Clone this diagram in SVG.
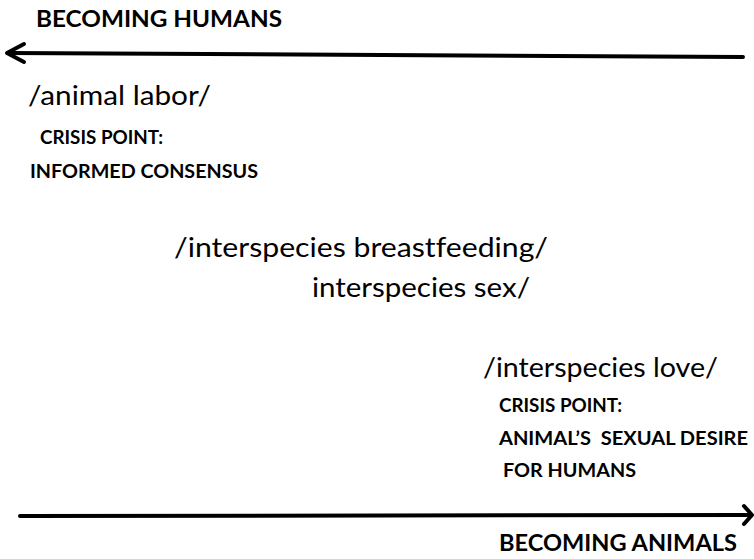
<svg xmlns="http://www.w3.org/2000/svg" width="754" height="559" viewBox="0 0 754 559">
<style>
.t{font-family:Lato,"Open Sans","Liberation Sans",sans-serif;fill:#000;font-variant-ligatures:none}
.b{font-weight:bold;font-size:19.5px}
.h{font-weight:bold;font-size:23px}
.r{font-size:27px}
.ln{stroke:#000;stroke-width:4;fill:none;stroke-linecap:round;stroke-linejoin:round}
</style>
<rect width="754" height="559" fill="#fff"/>
<g id="connectors">
<line class="ln" x1="8" y1="53" x2="743" y2="57"/>
<polyline class="ln" points="24,44 7,53 24,62"/>
<line class="ln" x1="20" y1="516" x2="751" y2="515"/>
<polyline class="ln" points="744,506 752,515 744,524"/>
</g>
<g id="becoming-humans"><text class="t h" x="36" y="27" textLength="246" lengthAdjust="spacingAndGlyphs">BECOMING HUMANS</text></g>
<g id="animal-labor">
<text class="t r" x="28" y="105" textLength="183" lengthAdjust="spacingAndGlyphs">/animal labor/</text>
<text class="t b" x="40" y="144" textLength="123" lengthAdjust="spacingAndGlyphs">CRISIS POINT:</text>
<text class="t b" x="30" y="178" textLength="228" lengthAdjust="spacingAndGlyphs">INFORMED CONSENSUS</text>
</g>
<g id="interspecies-breastfeeding">
<text class="t r" x="174" y="257" textLength="374" lengthAdjust="spacingAndGlyphs">/interspecies breastfeeding/</text>
<text class="t r" x="312" y="297" textLength="218" lengthAdjust="spacingAndGlyphs">interspecies sex/</text>
</g>
<g id="interspecies-love">
<text class="t r" x="483" y="377" textLength="235" lengthAdjust="spacingAndGlyphs">/interspecies love/</text>
<text class="t b" x="499" y="412" textLength="123" lengthAdjust="spacingAndGlyphs">CRISIS POINT:</text>
<text class="t b" x="499" y="445" textLength="249" lengthAdjust="spacingAndGlyphs" xml:space="preserve">ANIMAL’S  SEXUAL DESIRE</text>
<text class="t b" x="503" y="477" textLength="133" lengthAdjust="spacingAndGlyphs">FOR HUMANS</text>
</g>
<g id="becoming-animals"><text class="t h" x="499" y="551" textLength="238" lengthAdjust="spacingAndGlyphs">BECOMING ANIMALS</text></g>
</svg>
